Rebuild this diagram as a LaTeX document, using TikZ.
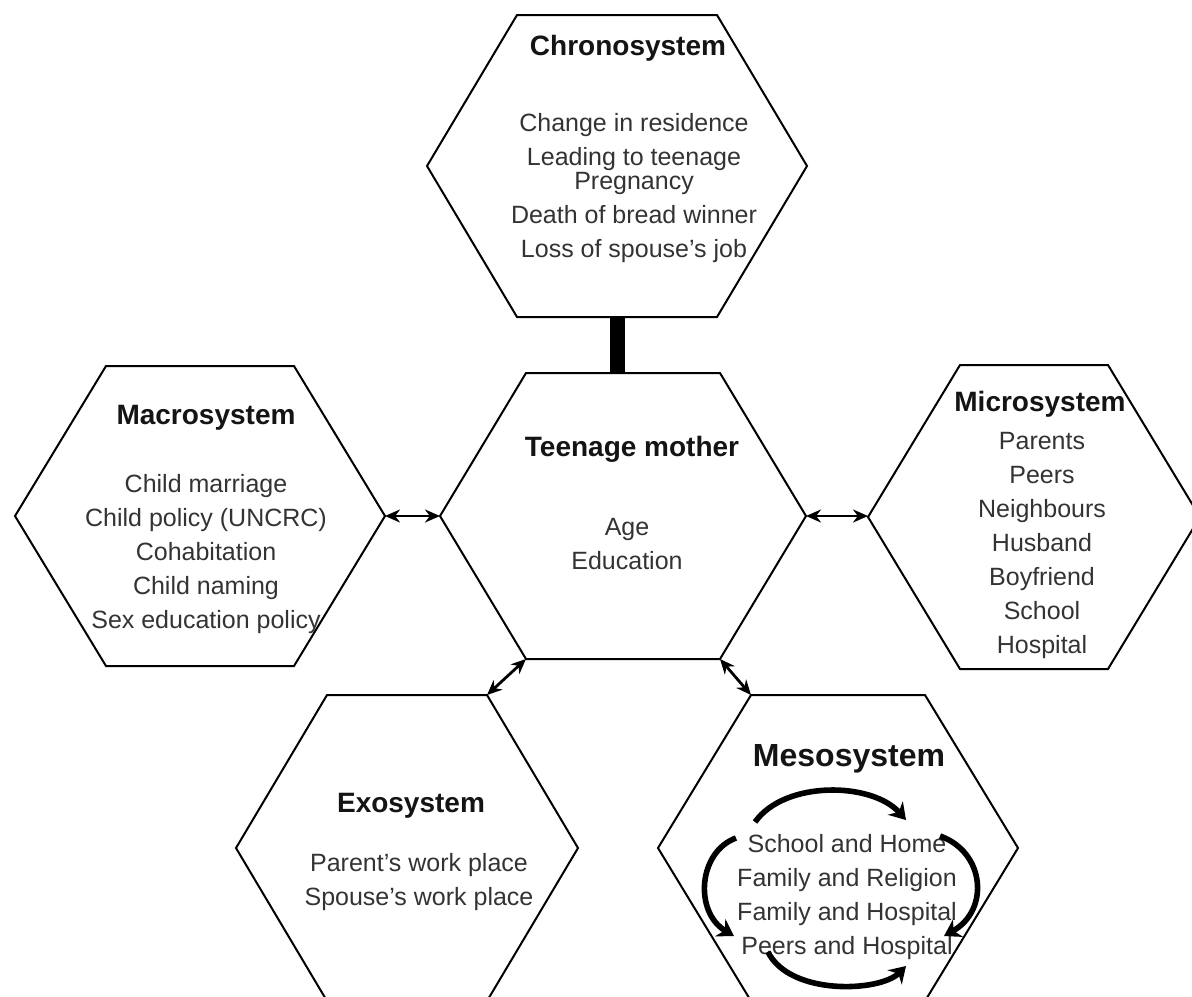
\documentclass[tikz,border=0pt]{standalone}
\usepackage{fontspec}
\setmainfont{Liberation Sans}
\usetikzlibrary{arrows.meta, calc}
\definecolor{ink}{HTML}{141414}
\definecolor{muted}{HTML}{333333}
% one hexagon: name, centre, half width, half height, half edge
\newcommand\hexcell[5]{%
  \path (#2) coordinate (#1);
  \draw[cell] ($(#1)+(-#3,0)$) coordinate (#1-w)
    -- ($(#1)+(-#5,-#4)$) coordinate (#1-nw)
    -- ($(#1)+(#5,-#4)$) coordinate (#1-ne)
    -- ($(#1)+(#3,0)$) coordinate (#1-e)
    -- ($(#1)+(#5,#4)$) coordinate (#1-se)
    -- ($(#1)+(-#5,#4)$) coordinate (#1-sw)
    -- cycle;
  \path ($(#1)+(0,-#4)$) coordinate (#1-n) ($(#1)+(0,#4)$) coordinate (#1-s);
}
\tikzset{
  >={Stealth[length=7.5pt, width=6.5pt]},
  %
  cell/.style={draw=black, line width=1pt, line join=miter},
  celltitle/.style={font=\bfseries\fontsize{14}{17}\selectfont, text=ink, inner sep=0pt},
  cellitems/.style={font=\fontsize{12.5}{17}\selectfont, text=muted, align=center, inner sep=0pt},
  %
  pairlink/.style={draw=black, line width=1.4pt, <->},
  linkbar/.style={draw=black, line width=7.5pt},
  cycarrow/.style={draw=black, line width=2.8pt, -{Stealth[length=8pt, width=10pt]}},
}

\begin{document}
\begin{tikzpicture}[x=0.5pt, y=-0.5pt]
\useasboundingbox (0,0) rectangle (1192,996);
\clip (0,0) rectangle (1192,996);

% =========================================================================
% the six cells
% =========================================================================
\hexcell{chrono}{617,166}{190}{151}{100}
\hexcell{teen}{623,516}{183}{143}{97}
\hexcell{macro}{200,516}{185}{150}{94}
\hexcell{micro}{1034,517}{166}{152}{74}
\hexcell{exo}{407,848}{171}{153}{80}
\hexcell{meso}{838,848}{180}{153}{87}

% chronosystem
\node[celltitle] (chrono-t) at (628,48) {Chronosystem};
\node[cellitems] (chrono-b) at (634,188)
  {Change in residence\\Leading to teenage\\[-5pt]Pregnancy\\Death of bread winner\\Loss of spouse's job};

% teenage mother
\node[celltitle] (teen-t) at (632,449) {Teenage mother};
\node[cellitems] (teen-b) at (627,544) {Age\\Education};

% macrosystem
\node[celltitle] (macro-t) at (206,418) {Macrosystem};
\node[cellitems] (macro-b) at (206,554)
  {Child marriage\\Child policy (UNCRC)\\Cohabitation\\Child naming\\Sex education policy};

% microsystem
\node[celltitle] (micro-t) at (1040,404) {Microsystem};
\node[cellitems] (micro-b) at (1042,545)
  {Parents\\Peers\\Neighbours\\Husband\\Boyfriend\\School\\Hospital};

% exosystem
\node[celltitle] (exo-t) at (411,806) {Exosystem};
\node[cellitems] (exo-b) at (419,882) {Parent's work place\\Spouse's work place};

% mesosystem
\node[celltitle, font=\bfseries\fontsize{16}{19}\selectfont] (meso-t) at (849,759) {Mesosystem};
\node[cellitems] (meso-b) at (847,897)
  {School and Home\\Family and Religion\\Family and Hospital\\Peers and Hospital};

% =========================================================================
% links between the cells
% =========================================================================
\draw[linkbar] (chrono-s) -- (chrono-s |- teen-n);
\draw[pairlink] (macro-e) -- (macro-e -| teen-w);
\draw[pairlink] (teen-e) -- (teen-e -| micro-w);
\draw[pairlink] (teen-sw) -- (exo-ne);
\draw[pairlink] (teen-se) -- (meso-nw);

% the turning arrows round the mesosystem list
\draw[cycarrow] (755,822) .. controls (785,780) and (872,782) .. (906,820);
\draw[cycarrow] (940,836) .. controls (985,852) and (990,910) .. (944,936);
\draw[cycarrow] (768,952) .. controls (790,996) and (880,992) .. (906,966);
\draw[cycarrow] (736,838) .. controls (698,852) and (694,912) .. (734,936);

\end{tikzpicture}
\end{document}
